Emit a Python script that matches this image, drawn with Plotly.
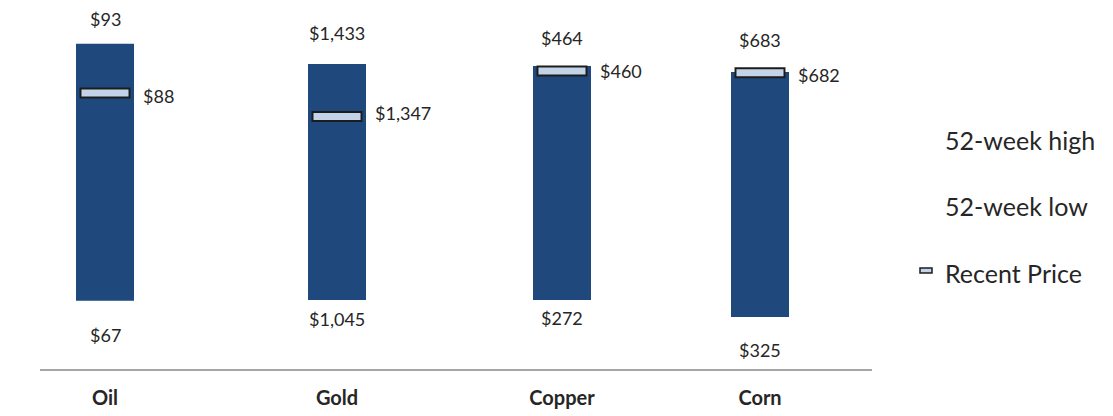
import plotly.graph_objects as go

# ---- data ----
categories = ["Oil", "Gold", "Copper", "Corn"]
week52_high = [93, 1433, 464, 683]
week52_low = [67, 1045, 272, 325]
recent_price = [88, 1347, 460, 682]

# ---- layout / style constants ----
# the page body has an 8px margin, so the figure is 8px smaller than the window
W, H = 1105, 408
M_T, M_B = 2, 46
PLOT_H = H - M_T - M_B                      # 360
AXIS_Y = H - M_B                            # 362 (px from top)
centers_px = [97, 329, 554, 752]            # category centres (px)
slot_px = 150                               # width of each category's x-domain
bar_px = 58
y_ranges = [(60.0, 96.4), (930.0, 1522.0), (214.6, 510.0), (247.6, 773.6)]
high_shift = [25, 31, 28, 32]
low_shift = [-34, -19, -18, -33]
recent_shift = [-3, 3, 0, -2]

BAR_COLOR = "#1F497D"
MARK_FILL = "#C3D3E8"
MARK_EDGE = "#1C1C1C"
TXT = "#262626"
FONT = "Lato"


def py(p):
    """pixel row -> paper y"""
    return (AXIS_Y - p) / PLOT_H


fig = go.Figure()
axes = {}
annotations = []


def fmt(v):
    return "${:,}".format(v)


for i, cat in enumerate(categories):
    n = "" if i == 0 else str(i + 1)
    xa, ya = "x" + n, "y" + n
    c = centers_px[i] / W
    half = slot_px / 2 / W
    axes["xaxis" + n] = dict(
        domain=[c - half, c + half], anchor=ya, type="category",
        range=[-0.5, 0.5], showline=False, showgrid=False, zeroline=False,
        ticks="", ticklabelstandoff=14,
        tickfont=dict(family=FONT, size=20, color=TXT, weight="bold"),
        fixedrange=True,
    )
    axes["yaxis" + n] = dict(domain=[0, 1], anchor=xa, range=list(y_ranges[i]),
                             visible=False, fixedrange=True)

    fig.add_trace(go.Bar(
        x=[cat], y=[week52_high[i] - week52_low[i]], base=[week52_low[i]],
        width=bar_px / slot_px, marker=dict(color=BAR_COLOR, line=dict(width=0)),
        xaxis=xa, yaxis=ya, showlegend=False, hoverinfo="skip"))

for i, cat in enumerate(categories):
    n = "" if i == 0 else str(i + 1)
    fig.add_trace(go.Scatter(
        x=[cat], y=[week52_high[i]], mode="markers", name="52-week high",
        legendgroup="high", showlegend=(i == 0),
        marker=dict(color="rgba(0,0,0,0)", size=1),
        xaxis="x" + n, yaxis="y" + n, hoverinfo="skip"))
for i, cat in enumerate(categories):
    n = "" if i == 0 else str(i + 1)
    fig.add_trace(go.Scatter(
        x=[cat], y=[week52_low[i]], mode="markers", name="52-week low",
        legendgroup="low", showlegend=(i == 0),
        marker=dict(color="rgba(0,0,0,0)", size=1),
        xaxis="x" + n, yaxis="y" + n, hoverinfo="skip"))

# legend entry for the recent price (its symbol is drawn as a small shape)
fig.add_trace(go.Scatter(
    x=[None], y=[None], mode="markers", name="Recent Price",
    legendgroup="recent", showlegend=True,
    marker=dict(color="rgba(0,0,0,0)", size=1)))

for i, cat in enumerate(categories):
    n = "" if i == 0 else str(i + 1)
    fig.add_trace(go.Scatter(
        x=[cat], y=[recent_price[i]], mode="markers", name="Recent Price",
        legendgroup="recent", showlegend=False,
        marker=dict(symbol="line-ew", size=36.4, color=MARK_EDGE,
                    line=dict(width=11, color=MARK_EDGE)),
        xaxis="x" + n, yaxis="y" + n, hoverinfo="skip"))
    fig.add_trace(go.Scatter(
        x=[cat], y=[recent_price[i]], mode="markers", name="Recent Price",
        legendgroup="recent", showlegend=False,
        marker=dict(symbol="line-ew", size=33.6, color=MARK_FILL,
                    line=dict(width=7, color=MARK_FILL)),
        xaxis="x" + n, yaxis="y" + n, hoverinfo="skip"))

for i, cat in enumerate(categories):
    n = "" if i == 0 else str(i + 1)
    common = dict(xref="x" + n, yref="y" + n, x=cat, showarrow=False,
                  font=dict(family=FONT, size=18, color=TXT))
    annotations.append(dict(common, y=week52_high[i], text=fmt(week52_high[i]),
                            yanchor="middle", yshift=high_shift[i]))
    annotations.append(dict(common, y=week52_low[i], text=fmt(week52_low[i]),
                            yanchor="middle", yshift=low_shift[i]))
    annotations.append(dict(common, y=recent_price[i], text=fmt(recent_price[i]),
                            xanchor="left", xshift=36, yanchor="middle",
                            yshift=recent_shift[i]))

fig.update_layout(
    width=W, height=H,
    margin=dict(l=0, r=0, t=M_T, b=M_B, autoexpand=False),
    paper_bgcolor="white", plot_bgcolor="white",
    barmode="overlay",
    showlegend=True,
    legend=dict(x=897 / W, xanchor="left", y=py(109), yanchor="top",
                traceorder="grouped", tracegroupgap=31,
                font=dict(family=FONT, size=25, color=TXT),
                bgcolor="rgba(0,0,0,0)"),
    annotations=annotations,
    shapes=[
        dict(type="line", xref="paper", yref="paper",
             x0=32 / W, x1=864 / W, y0=0, y1=0,
             line=dict(color="#A6A6A6", width=2)),
        dict(type="rect", xref="paper", yref="paper",
             x0=912 / W, x1=924 / W, y0=py(265), y1=py(260),
             fillcolor=MARK_FILL, line=dict(color=MARK_EDGE, width=1.5)),
    ],
    **axes,
)

fig.write_html("out.html")
